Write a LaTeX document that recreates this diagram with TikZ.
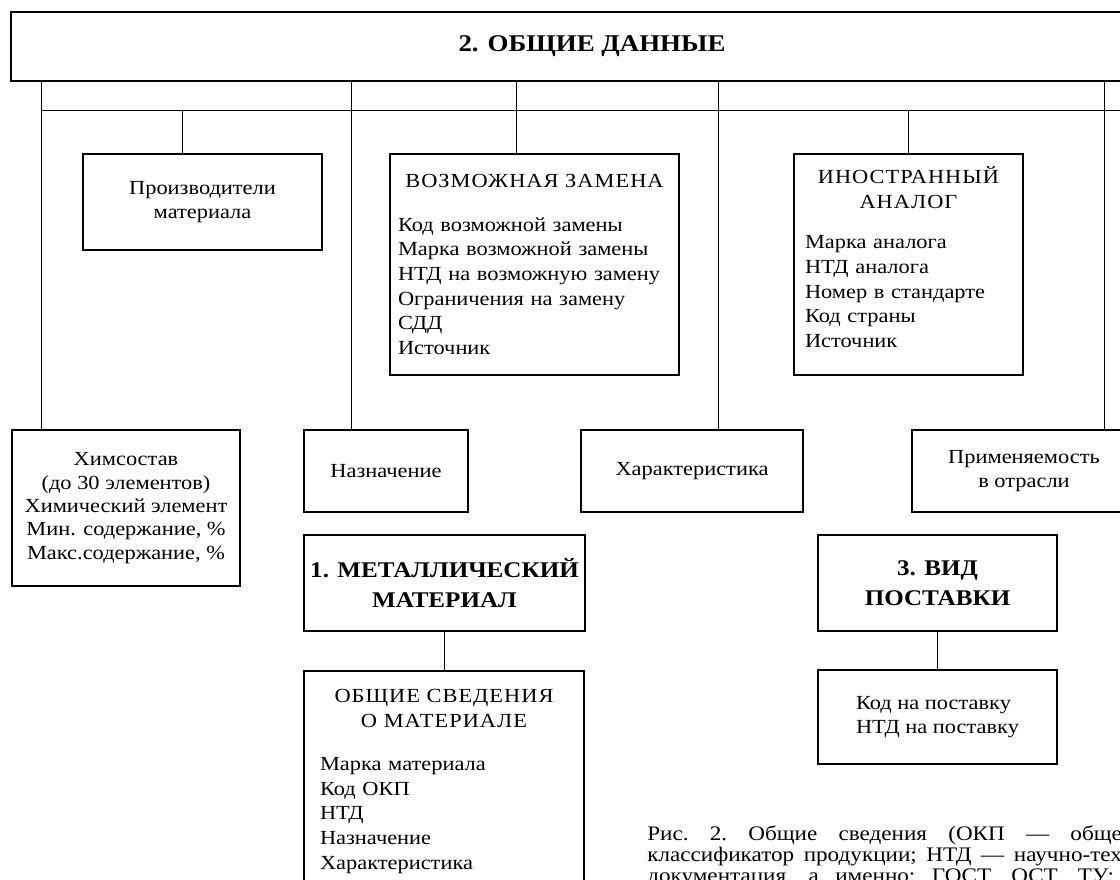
\documentclass[tikz,border=0pt]{standalone}
\usepackage{fontspec}
\setmainfont{Liberation Serif}[FakeStretch=1.12]
\newfontfamily\headfont{Liberation Serif}[FakeStretch=1.12, LetterSpace=5]
\newcommand{\boxhead}[1]{\makebox[\linewidth]{\headfont #1}}

\tikzset{
  box/.style={draw, line width=1.5pt, inner sep=0pt, align=center, anchor=north west,
              font=\fontsize{15pt}{18.5pt}\selectfont},
  titlebox/.style={box, font=\fontsize{16.8pt}{22.5pt}\selectfont\bfseries},
  listbox/.style={box, align=left},
  link/.style={line width=0.75pt},
  caption/.style={anchor=west, inner sep=0pt, font=\fontsize{15.5pt}{17pt}\selectfont\frenchspacing},
}

\begin{document}
\begin{tikzpicture}[x=0.75pt, y=-0.75pt]
    \useasboundingbox (0,0) rectangle (1120,879);
    \clip (0,0) rectangle (1120,879);

    % 2. Общие данные
    \node[titlebox, font=\fontsize{18pt}{22pt}\selectfont\bfseries,
          minimum width=871.5pt, minimum height=51.75pt] (data) at (10,11) {2. ОБЩИЕ ДАННЫЕ};

    % upper row
    \node[box, minimum width=179.25pt, minimum height=72pt] (maker) at (82,153)
        {Производители\\материала};
    \node[listbox, text width=204.75pt, inner xsep=6pt, minimum height=165.75pt] (subst) at (389,153)
        {\boxhead{ВОЗМОЖНАЯ ЗАМЕНА}\\[14pt]
         Код возможной замены\\ Марка возможной замены\\ НТД на возможную замену\\
         Ограничения на замену\\ СДД\\ Источник};
    \node[listbox, text width=155.25pt, inner xsep=8.25pt, inner ysep=12pt,
          text height=10.1pt, text depth=131.65pt] (analog) at (793,153)
        {\boxhead{ИНОСТРАННЫЙ}\\ \boxhead{АНАЛОГ}\\[12pt]
         Марка аналога\\ НТД аналога\\ Номер в стандарте\\ Код страны\\ Источник};

    % lower row
    \node[box, font=\fontsize{15pt}{17.5pt}\selectfont, minimum width=171pt, minimum height=117pt] (chem) at (11,429)
        {Химсостав\\(до 30 элементов)\\Химический элемент\\Мин. содержание, \%\\Макс.содержание, \%};
    \node[box, minimum width=123pt, minimum height=61.5pt] (purpose) at (303,429) {Назначение};
    \node[box, minimum width=166.5pt, minimum height=61.5pt] (charact) at (580,429) {Характеристика};
    \node[box, minimum width=168pt, minimum height=61.5pt] (usage) at (911,429)
        {Применяемость\\в отрасли};

    % 1. Металлический материал
    \node[titlebox, minimum width=210.75pt, minimum height=72pt] (metal) at (303,534)
        {1. МЕТАЛЛИЧЕСКИЙ\\МАТЕРИАЛ};
    \node[listbox, text width=186pt, inner xsep=12pt, inner ysep=12pt,
          text height=11.6pt, text depth=150pt] (general) at (303,670)
        {\boxhead{ОБЩИЕ СВЕДЕНИЯ}\\ \boxhead{О МАТЕРИАЛЕ}\\[14pt]
         Марка материала\\ Код ОКП\\ НТД\\ Назначение\\ Характеристика};

    % 3. Вид поставки
    \node[titlebox, minimum width=179.25pt, minimum height=72pt] (supply) at (817,534)
        {3. ВИД\\ПОСТАВКИ};
    \node[listbox, minimum width=179.25pt, minimum height=70.5pt] (supplycode) at (817,669)
        {Код на поставку\\НТД на поставку};

    % links
    \coordinate (bus) at (41,110);
    \coordinate (busend) at (1130,110);
    \draw[link] (bus) -- (busend);
    \foreach \n/\x in {chem/41, purpose/351, subst/516, charact/718, usage/1104} {
        \coordinate (tap) at (\x,0);
        \draw[link] (data.south -| tap) -- (\n.north -| tap);
    }
    \foreach \n/\x in {maker/182, analog/908} {
        \coordinate (tap) at (\x,0);
        \draw[link] (bus -| tap) -- (\n.north -| tap);
    }
    \draw[link] (metal.south) -- (metal.south |- general.north);
    \draw[link] (supply.south) -- (supply.south |- supplycode.north);

    % caption
    \node[caption] (cap1) at (647,835) {\makebox[356pt][s]{Рис. 2. Общие сведения (ОКП — обще}};
    \node[caption] (cap2) at (647,857) {\makebox[356pt][s]{классификатор продукции; НТД — научно-тех}};
    \node[caption] (cap3) at (647,878) {\makebox[350pt][s]{документация, а именно: ГОСТ, ОСТ, ТУ;}};
\end{tikzpicture}
\end{document}
